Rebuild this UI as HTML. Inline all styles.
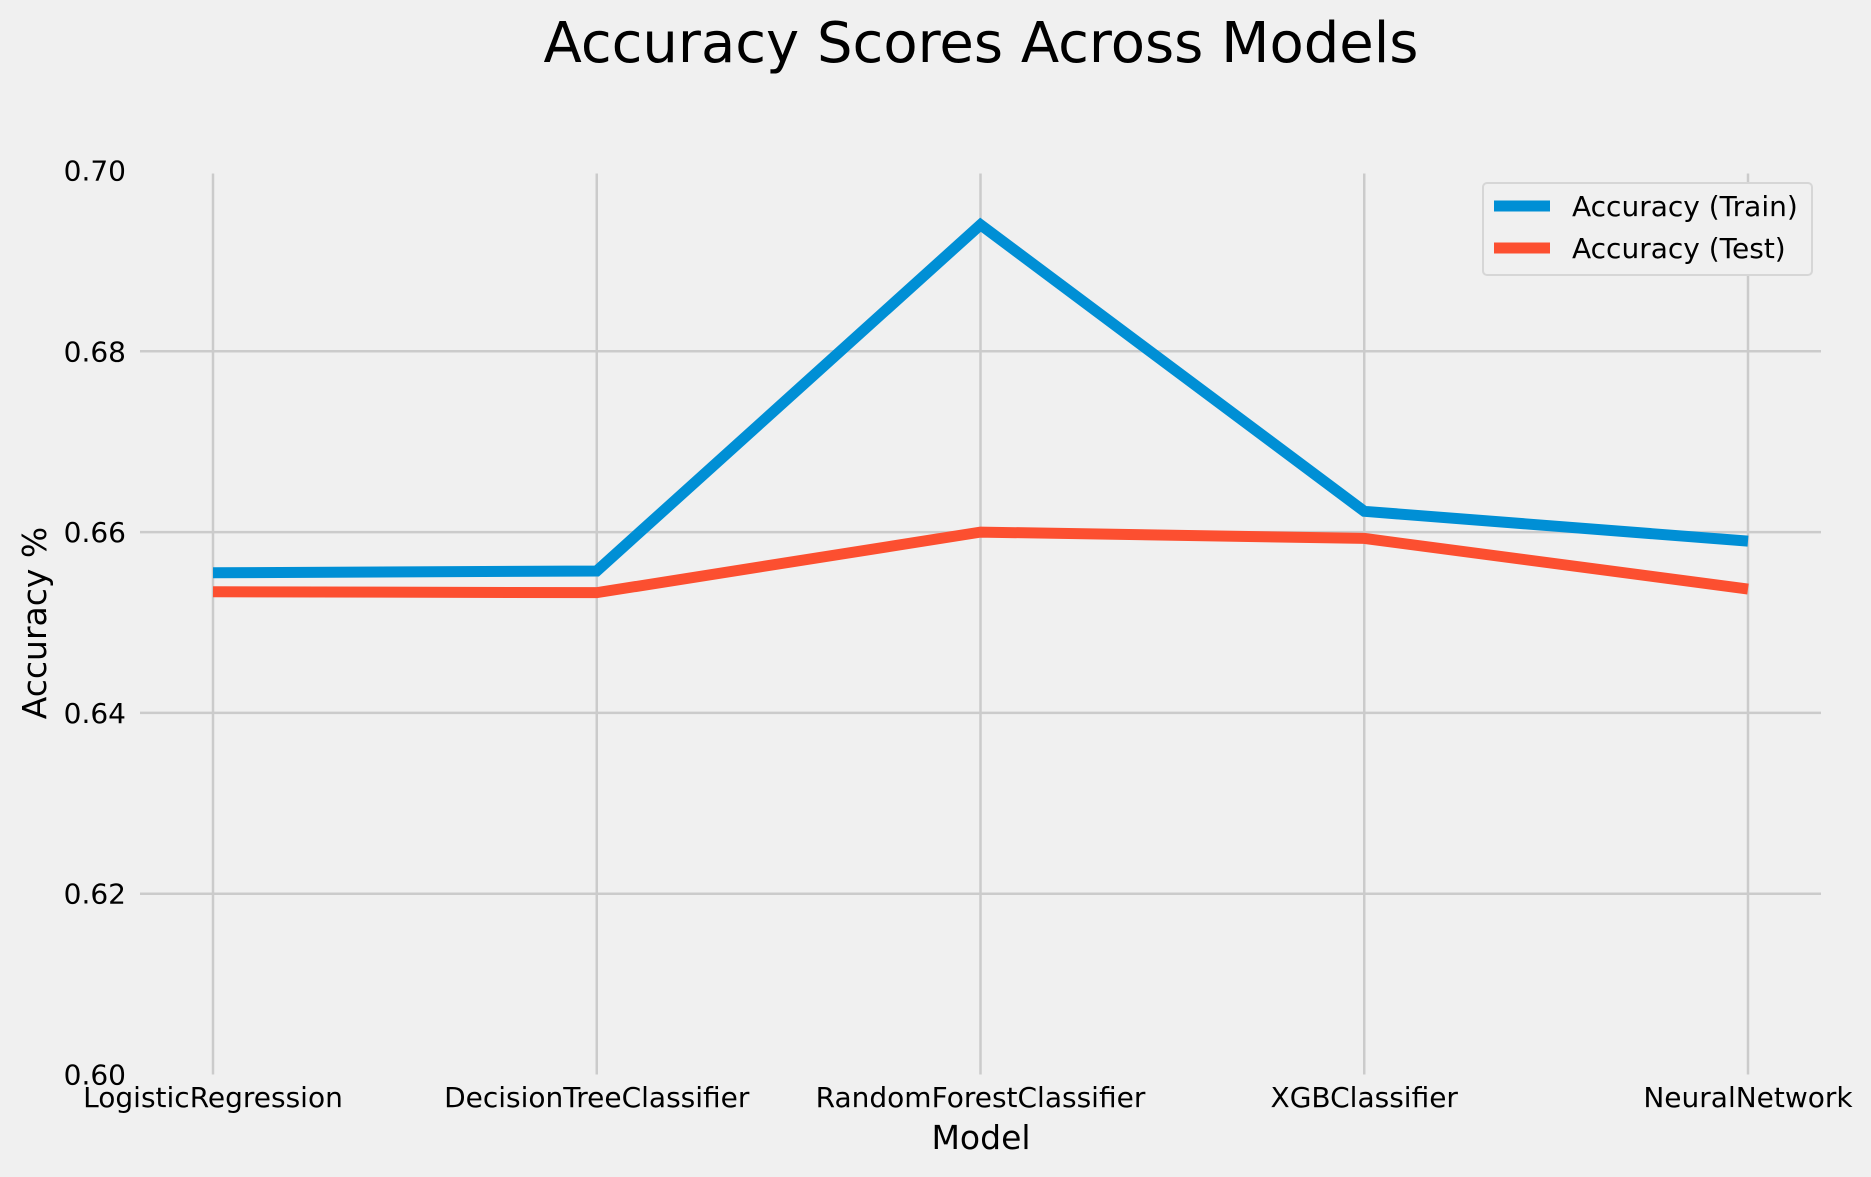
<!DOCTYPE html>
<html><head><meta charset="utf-8">
<style>
html,body{margin:0;padding:0;background:#f0f0f0;}
svg{display:block;font-family:"DejaVu Sans","Liberation Sans",sans-serif;}
</style></head>
<body>
<svg id="chart" width="1871" height="1177" viewBox="0 0 1871 1177" xmlns="http://www.w3.org/2000/svg">
<rect x="0" y="0" width="1871" height="1177" fill="#f0f0f0"/>
<text x="981" y="62" font-size="56" text-anchor="middle" fill="#000">Accuracy Scores Across Models</text>
<g id="grid"></g>
<g id="series"></g>
<g id="ticks"></g>
<text x="981" y="1149" font-size="33" text-anchor="middle" fill="#000">Model</text>
<text x="0" y="0" font-size="33" text-anchor="middle" fill="#000" transform="translate(46,623) rotate(-90)">Accuracy %</text>
<g>
<rect x="1483" y="183" width="329" height="92" rx="4" fill="#f0f0f0" stroke="#d6d6d6" stroke-width="2"/>
<line x1="1494" y1="206" x2="1550" y2="206" stroke="#008fd5" stroke-width="11"/>
<text x="1572" y="216" font-size="28" fill="#000">Accuracy (Train)</text>
<line x1="1494" y1="248" x2="1550" y2="248" stroke="#fc4f30" stroke-width="11"/>
<text x="1572" y="258" font-size="28" fill="#000">Accuracy (Test)</text>
</g>
</svg>
<script>
const categories = ["LogisticRegression","DecisionTreeClassifier","RandomForestClassifier","XGBClassifier","NeuralNetwork"];
const trainValues = [0.6555, 0.6557, 0.6940, 0.6623, 0.6590];
const testValues = [0.6534, 0.6533, 0.6600, 0.6593, 0.6537];
const yTicks = [0.60, 0.62, 0.64, 0.66, 0.68, 0.70];
const yTickLabels = ["0.60","0.62","0.64","0.66","0.68","0.70"];

const NS = "http://www.w3.org/2000/svg";
const plotLeft = 140, plotRight = 1821, x0 = 213, x1 = 1748;
const yTop = 170.5, yBottom = 1074.5, yMin = 0.60, yMax = 0.70;
function xScale(i){ return x0 + (x1 - x0) * i / (categories.length - 1); }
function yScale(v){ return yBottom - (v - yMin) / (yMax - yMin) * (yBottom - yTop); }
function mk(tag, attrs, parent){
  const el = document.createElementNS(NS, tag);
  for (const k in attrs) el.setAttribute(k, attrs[k]);
  parent.appendChild(el);
  return el;
}
const grid = document.getElementById("grid");
const ticks = document.getElementById("ticks");
const series = document.getElementById("series");

yTicks.forEach((v, i) => {
  if (v > yMin + 1e-9 && v < yMax - 1e-9) {
    const gl = mk("line", {x1: plotLeft, x2: plotRight, y1: yScale(v), y2: yScale(v), stroke: "#cbcbcb", "stroke-width": 2.5}, grid);
    
    
  }
  const t = mk("text", {x: 126, y: yScale(v) + 10, "font-size": 28, "text-anchor": "end", fill: "#000"}, ticks);
  t.textContent = yTickLabels[i];
  
  
});
categories.forEach((c, i) => {
  const gl = mk("line", {x1: xScale(i), x2: xScale(i), y1: yTop + 3, y2: yBottom, stroke: "#cbcbcb", "stroke-width": 2.5}, grid);
  
  
  const t = mk("text", {x: xScale(i), y: 1107, "font-size": 28, "text-anchor": "middle", fill: "#000"}, ticks);
  t.textContent = c;
  
  
});
function drawLine(vals, color, name){
  const pts = vals.map((v, i) => xScale(i) + "," + yScale(v)).join(" ");
  const pl = mk("polyline", {points: pts, fill: "none", stroke: color, "stroke-width": 11, "stroke-linejoin": "miter", "stroke-linecap": "butt"}, series);
  
  
}
drawLine(trainValues, "#008fd5", "train-accuracy-line");
drawLine(testValues, "#fc4f30", "test-accuracy-line");
</script>
</body></html>
